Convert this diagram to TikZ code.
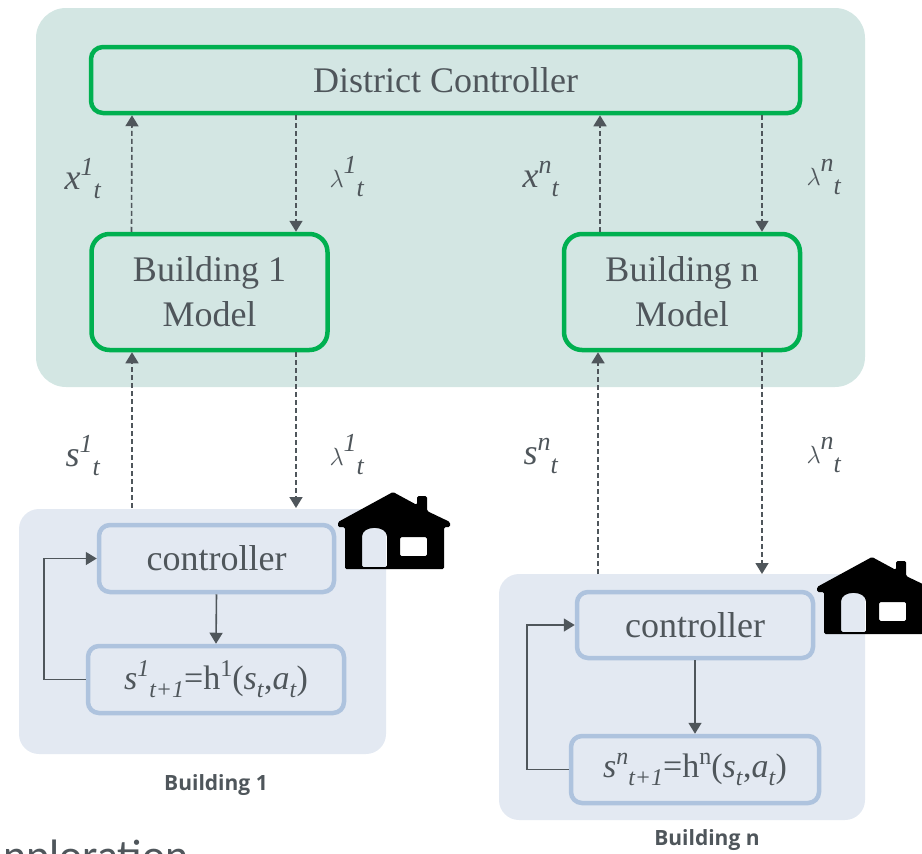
\documentclass[tikz,border=0pt]{standalone}
\usepackage{amsmath}
\usepackage{fontspec}
\setmainfont{Liberation Serif}
\newfontfamily\labelfont{Open Sans}
\newfontfamily\cutfont{Carlito}
\usetikzlibrary{arrows.meta}
\definecolor{inkgrey}{HTML}{4F565B}
\definecolor{tealpanel}{HTML}{D3E6E3}
\definecolor{bluepanel}{HTML}{E3E9F2}
\definecolor{modelgreen}{HTML}{00B050}
\definecolor{ctrlblue}{HTML}{AEC3DE}
\newcommand{\symb}[3]{\fontsize{36}{40}\selectfont\textit{#1}\raisebox{14pt}{\fontsize{26}{28}\selectfont\textit{#2}}\raisebox{-9pt}{\fontsize{26}{28}\selectfont\textit{#3}}}
\newcommand{\eqn}[3]{\fontsize{34}{38}\selectfont\textit{s}\raisebox{13pt}{\fontsize{24}{26}\selectfont\textit{#1}}\raisebox{-8pt}{\fontsize{24}{26}\selectfont\textit{t+1}}=h\raisebox{13pt}{\fontsize{24}{26}\selectfont #2}(\textit{s}\raisebox{-8pt}{\fontsize{24}{26}\selectfont\textit{t}},\textit{a}\raisebox{-8pt}{\fontsize{24}{26}\selectfont\textit{t}})}
\begin{document}
\begin{tikzpicture}[x=1pt, y=-1pt,
  >={Triangle[length=11pt,width=13pt]},
  model node/.style={draw=modelgreen, line width=4.5pt, rounded corners=18pt, align=center,
    text=inkgrey, inner sep=0pt, font=\fontsize{36}{45}\selectfont},
  ctrl node/.style={draw=ctrlblue, line width=4.5pt, rounded corners=11pt, text=inkgrey,
    inner sep=0pt, font=\fontsize{36}{40}\selectfont},
  link/.style={->, draw=inkgrey, line width=1.6pt},
  msg/.style={link, dash pattern=on 5pt off 3pt},
  panel/.style={fill=#1, draw=none},
  sym node/.style={text=inkgrey, inner sep=0pt},
  caption node/.style={text=inkgrey, font=\labelfont\bfseries\fontsize{21}{24}\selectfont, inner sep=0pt},
  house/.pic={
    \fill[black, even odd rule, rounded corners=1.5pt]
      (1,31) -- (56,1) -- (80,14) -- (80,5) -- (90,5) -- (90,20) -- (113,31) -- (113,36)
      -- (107,36) -- (107,78) -- (8,78) -- (8,36) -- (1,36) -- cycle
      (25,76) -- (25,47) .. controls (25,34) and (50,34) .. (50,47) -- (50,76) -- cycle
      (63,46) -- (90,46) -- (90,65) -- (63,65) -- cycle;
  }]
\useasboundingbox (0,0) rectangle (922,854);
\clip (0,0) rectangle (922,854);
% panels
\fill[panel=tealpanel, rounded corners=30pt] (36,8) rectangle (865,387);
\fill[panel=bluepanel, rounded corners=20pt] (19,509) rectangle (386,754);
\fill[panel=bluepanel, rounded corners=20pt] (499,574) rectangle (865,820);

% district level
\node[model node, rounded corners=12pt, minimum width=709pt, minimum height=66pt] (district) at (445.5,80) {District Controller};
\node[model node, minimum width=236pt, minimum height=116pt] (model1) at (209.5,292) {Building 1\\Model};
\node[model node, minimum width=236pt, minimum height=116pt] (modeln) at (682,292) {Building n\\Model};

% building 1
\node[ctrl node, minimum width=235pt, minimum height=67pt] (ctrl1) at (216.5,558.5) {controller};
\node[ctrl node, minimum width=256pt, minimum height=67pt] (state1) at (216,679.5) {\eqn{1}{1}{}};
\node[caption node] (cap1) at (216,785) {Building 1};

% building n
\node[ctrl node, minimum width=236pt, minimum height=66pt] (ctrln) at (695,625) {controller};
\node[ctrl node, minimum width=248pt, minimum height=67pt] (staten) at (695,769.5) {\eqn{n}{n}{}};
\node[caption node] (capn) at (707,840) {Building n};

% labels
\node[sym node] (x1)  at (83,179)  {\symb{x}{1}{t}};
\node[sym node] (l1)  at (347,177) {\symb{$\lambda$}{1}{t}};
\node[sym node] (xn)  at (541,179) {\symb{x}{n}{t}};
\node[sym node] (ln)  at (824,177) {\symb{$\lambda$}{n}{t}};
\node[sym node] (s1)  at (83,456)  {\symb{s}{1}{t}};
\node[sym node] (l1b) at (347,455) {\symb{$\lambda$}{1}{t}};
\node[sym node] (sn)  at (541,456) {\symb{s}{n}{t}};
\node[sym node] (lnb) at (824,455) {\symb{$\lambda$}{n}{t}};

% cut off text
\node[anchor=base west, text=inkgrey, inner sep=0pt, font=\cutfont\fontsize{44}{48}\selectfont] (cut) at (3,870) {nploration};

% houses
\pic at (337,491) {house};
\pic at (816,556) {house};

% links
\draw[msg] ([xshift=-78pt]model1.north) -- ([xshift=-313.5pt]district.south);
\draw[msg] ([xshift=-149.5pt]district.south) -- ([xshift=86.5pt]model1.north);
\draw[msg] ([xshift=-82pt]modeln.north) -- ([xshift=154.5pt]district.south);
\draw[msg] ([xshift=316.5pt]district.south) -- ([xshift=80pt]modeln.north);
\draw[msg] (132,508) -- ([xshift=-77.5pt]model1.south);
\draw[msg] ([xshift=86.5pt]model1.south) -- (296,508);
\draw[msg] (598,574) -- ([xshift=-84pt]modeln.south);
\draw[msg] ([xshift=80pt]modeln.south) -- (762,574);
\draw[link] (ctrl1.south) -- (state1.north);
\draw[link] (ctrln.south) -- (staten.north);
\draw[link] (state1.west) -- (44,679.5) |- (ctrl1.west);
\draw[link] (staten.west) -- (527,769.5) |- (ctrln.west);
\end{tikzpicture}
\end{document}
